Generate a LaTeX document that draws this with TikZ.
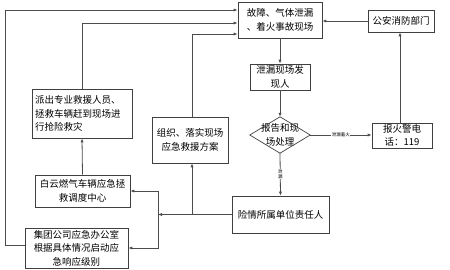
\documentclass[tikz,border=0pt]{standalone}
\usepackage{fontspec}
\setmainfont{Noto Sans CJK SC}
\usetikzlibrary{arrows.meta}
\begin{document}
\begin{tikzpicture}[x=1pt,y=-1pt,
  box/.style={draw=black!75,line width=0.7pt,inner sep=0pt,align=center,font=\fontsize{9.5}{13.5}\selectfont},
  conn/.style={draw=black!70,line width=0.8pt},
  arr/.style={conn,-{Latex[length=4pt,width=3.2pt]}},
  tiny/.style={font=\fontsize{4.5}{5}\selectfont,fill=white,inner sep=0.5pt}]
\useasboundingbox (0,0) rectangle (450,270);
\node[box,minimum width=84pt,minimum height=36pt] (guzhang) at (280,20) {故障、气体泄漏\\、着火事故现场};
\node[box,minimum width=66pt,minimum height=22pt] (gongan) at (401,21) {公安消防部门};
\node[box,minimum width=60pt,minimum height=26pt] (faxian) at (280,77) {泄漏现场发\\现人};
\node[inner sep=0pt,minimum width=60pt,minimum height=36pt,align=center,font=\fontsize{9.5}{13.5}\selectfont] (dia) at (280,135) {报告和现\\场处理};
\draw[draw=black!75,line width=0.7pt] (dia.north) -- (dia.east) -- (dia.south) -- (dia.west) -- cycle;
\node[box,minimum width=60pt,minimum height=25pt] (huojing) at (402,135.5) {报火警电\\话：119};
\node[box,minimum width=97pt,minimum height=37pt] (xianqing) at (280.5,214.5) {险情所属单位责任人};
\node[box,minimum width=76pt,minimum height=46pt] (zuzhi) at (190,140) {组织、落实现场\\应急救援方案};
\node[box,minimum width=100pt,minimum height=49pt,align=left,text width=94pt] (paichu) at (82,113.5) {派出专业救援人员、\\拯救车辆赶到现场进\\行抢险救灾};
\node[box,minimum width=95pt,minimum height=32pt] (baiyun) at (82.5,191) {白云燃气车辆应急拯\\救调度中心};
\node[box,minimum width=103pt,minimum height=40pt] (jituan) at (76.5,248) {集团公司应急办公室\\根据具体情况启动应\\急响应级别};
\coordinate (jl) at (158,214.5);
\coordinate (jz) at (192,214.5);
\draw[arr] (gongan.west) -- (guzhang.east |- gongan.west);
\draw[arr] (guzhang.south) -- (faxian.north);
\draw[arr] (faxian.south) -- (dia.north);
\draw[arr] (dia.east) -- node[tiny]{泄漏着火} (huojing.west |- dia.east);
\draw[arr] (huojing.north -| 400,0) -- (gongan.south -| 400,0);
\draw[arr] (dia.south) -- node[tiny,align=center,font=\fontsize{4.5}{5}\selectfont]{泄\\漏} (xianqing.north);
\draw[arr] (xianqing.west) -- (jl);
\draw[arr] (jz) -- (zuzhi.south -| jz);
\draw[arr] (jl) |- (baiyun.east);
\draw[arr] (jl) |- (jituan.east);
\draw[arr] (baiyun.north) -- (paichu.south);
\draw[arr] ([yshift=3pt]jituan.west) -- (5,245) -- (5,10) -- ([yshift=10pt]guzhang.west);
\draw[arr] (paichu.north) |- ([yshift=-3pt]guzhang.west);
\draw[arr] (zuzhi.north -| jz) |- ([yshift=-14pt]guzhang.west);
\end{tikzpicture}
\end{document}
